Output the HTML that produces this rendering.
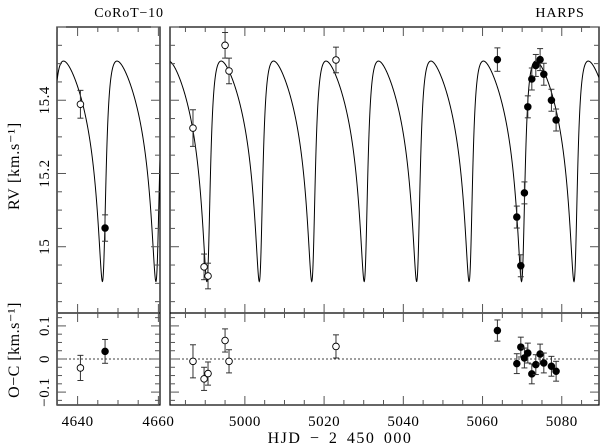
<!DOCTYPE html>
<html><head><meta charset="utf-8"><style>
html,body{margin:0;padding:0;background:#fff}
svg{display:block;font-family:"Liberation Serif","DejaVu Serif",serif}
</style></head><body>
<svg id="c" width="602" height="447" viewBox="0 0 602 447"></svg>
<script>
// ---- data ----
const openT = [4640.7, 4986.9, 4989.7, 4990.7, 4995.0, 4996.0, 5023.0];
const openRV = [15.389, 15.324, 14.945, 14.92, 15.55, 15.48, 15.51];
const openErr = [0.038, 0.05, 0.035, 0.035, 0.035, 0.035, 0.035];
const openRes = [-0.027, -0.007, -0.060, -0.044, 0.056, -0.007, 0.038];
const fillT = [4646.8, 5063.75, 5068.65, 5069.66, 5070.57, 5071.43, 5072.44, 5073.45, 5074.53, 5075.47, 5077.39, 5078.57];
const fillRV = [15.051, 15.511, 15.081, 14.948, 15.147, 15.382, 15.458, 15.495, 15.511, 15.471, 15.40, 15.346];
const fillErr = [0.036, 0.032, 0.03, 0.03, 0.03, 0.03, 0.03, 0.03, 0.03, 0.03, 0.03, 0.03];
const fillRes = [0.023, 0.086, -0.014, 0.036, 0.003, 0.018, -0.045, -0.017, 0.015, -0.012, -0.022, -0.037];
const orbitParams = [13.2406, 0.53, 218.9, 0.301, 4990.4]; // P, e, omega, K, t_min
const xTicksLeft = [4640, 4660];
const xTicksRight = [5000, 5020, 5040, 5060, 5080];
const rvTicks = [15, 15.2, 15.4];
const resTicks = [-0.1, 0, 0.1];

const svg = document.getElementById('c');
const NS = 'http://www.w3.org/2000/svg';
function mk(tag, attrs, parent){const e=document.createElementNS(NS,tag);for(const k in attrs)e.setAttribute(k,attrs[k]);(parent||svg).appendChild(e);return e;}

const panels = [
  {x0:57, x1:160, t0:4634.9, t1:4660.4, ticks:xTicksLeft, name:'left'},
  {x0:170, x1:599, t0:4981.1, t1:5089.4, ticks:xTicksRight, name:'right'}
];
const RV = {y0:27, y1:313, v0:15.6, v1:14.819};
const RS = {y0:313, y1:405, v0:0.139, v1:-0.139};
function xs(p,t){return p.x0+(t-p.t0)/(p.t1-p.t0)*(p.x1-p.x0);}
function ys(a,v){return a.y0+(a.v0-v)/(a.v0-a.v1)*(a.y1-a.y0);}

const [P,e,omDeg,K,tmin]=orbitParams;
const om=omDeg*Math.PI/180;
const V0 = 15.507 - K*(1+e*Math.cos(om));
const numin = Math.PI-om;
const Emin = 2*Math.atan(Math.sqrt((1-e)/(1+e))*Math.tan(numin/2));
const Mmin = Emin - e*Math.sin(Emin);
const tp = tmin - Mmin/(2*Math.PI)*P;
function rvModel(t){
  let M = 2*Math.PI*(t-tp)/P; M = ((M%(2*Math.PI))+2*Math.PI)%(2*Math.PI);
  let E=M; for(let i=0;i<50;i++){E=E-(E-e*Math.sin(E)-M)/(1-e*Math.cos(E));}
  const nu=2*Math.atan2(Math.sqrt(1+e)*Math.sin(E/2),Math.sqrt(1-e)*Math.cos(E/2));
  return V0+K*(Math.cos(nu+om)+e*Math.cos(om));
}

panels.forEach(p=>{
  const g = mk('g',{});
  
  
  const cid='clip-'+p.name;
  const cp=mk('clipPath',{id:cid},g); mk('rect',{x:p.x0,y:RV.y0,width:p.x1-p.x0,height:RV.y1-RV.y0},cp);
  let d='';
  for(let px=p.x0; px<=p.x1; px+=0.25){
    const t=p.t0+(px-p.x0)/(p.x1-p.x0)*(p.t1-p.t0);
    d+=(d?'L':'M')+px.toFixed(2)+','+ys(RV,rvModel(t)).toFixed(2);
  }
  const c=mk('path',{d:d,fill:'none',stroke:'#000','stroke-width':1,'clip-path':'url(#'+cid+')'},g);
  
  
  const zl=mk('line',{x1:p.x0,x2:p.x1,y1:ys(RS,0),y2:ys(RS,0),stroke:'#000','stroke-width':0.8,'stroke-dasharray':'2,2'},g);
  
  
  mk('rect',{x:p.x0,y:RV.y0,width:p.x1-p.x0,height:RS.y1-RV.y0,fill:'none',stroke:'#000','stroke-width':1.2},g);
  mk('line',{x1:p.x0,x2:p.x1,y1:RV.y1,y2:RV.y1,stroke:'#000','stroke-width':1.2},g);
  const tStart=Math.ceil(p.t0/5)*5;
  for(let t=tStart;t<=p.t1;t+=5){
    const x=xs(p,t); const maj=(t%20===0); const L=maj?9:5;
    [RV.y0, RS.y1].forEach((y,i)=>mk('line',{x1:x,x2:x,y1:y,y2:i===0?y+L:y-L,stroke:'#555','stroke-width':1},g));
    mk('line',{x1:x,x2:x,y1:RV.y1,y2:RV.y1-L,stroke:'#555','stroke-width':1},g);
    mk('line',{x1:x,x2:x,y1:RV.y1,y2:RV.y1+L,stroke:'#555','stroke-width':1},g);
  }
  p.ticks.forEach(t=>{
    const tl=mk('text',{x:xs(p,t),y:426,'text-anchor':'middle','font-size':15,'letter-spacing':0.5},g); tl.textContent=t;
    
    
  });
  [[RV,0.05,0.2],[RS,0.025,0.1]].forEach(([a,st,mj])=>{
    for(let v=Math.ceil(a.v1/st)*st; v<=a.v0+1e-9; v+=st){
      const y=ys(a,v); const maj=Math.abs(Math.round(v/mj)*mj-v)<1e-6; const L=maj?9:5;
      mk('line',{x1:p.x0,x2:p.x0+L,y1:y,y2:y,stroke:'#555','stroke-width':1},g);
      mk('line',{x1:p.x1,x2:p.x1-L,y1:y,y2:y,stroke:'#555','stroke-width':1},g);
    }
  });
});

rvTicks.forEach(v=>{
  const y=ys(RV,v);
  const t=mk('text',{x:0,y:0,'text-anchor':'middle','font-size':15,'letter-spacing':0.5,transform:`translate(49,${y}) rotate(-90)`});
  t.textContent=(v===15?'15':v.toFixed(1));
  
  
});
resTicks.forEach(v=>{
  const y=ys(RS,v);
  const t=mk('text',{x:0,y:0,'text-anchor':'middle','font-size':15,'letter-spacing':0.5,transform:`translate(49,${y}) rotate(-90)`});
  t.textContent=(v===0?'0':(v<0?'\u22120.1':'0.1'));
  
  
});

function drawPts(T,V,E,axis,filled,nm){
  T.forEach((t,i)=>{
    const p = t<4800?panels[0]:panels[1];
    const x=xs(p,t), y=ys(axis,V[i]);
    const ya=ys(axis,V[i]+E[i]), yb=ys(axis,V[i]-E[i]);
    const g=mk('g',{});
    
    
    mk('line',{x1:x,x2:x,y1:ya,y2:yb,stroke:'#333','stroke-width':1},g);
    mk('line',{x1:x-3,x2:x+3,y1:ya,y2:ya,stroke:'#333','stroke-width':1},g);
    mk('line',{x1:x-3,x2:x+3,y1:yb,y2:yb,stroke:'#333','stroke-width':1},g);
    mk('circle',{cx:x,cy:y,r:3.3,fill:filled?'#000':'#fff',stroke:'#000','stroke-width':0.9},g);
  });
}
drawPts(openT,openRV,openErr,RV,false,'rv-point-open');
drawPts(fillT,fillRV,fillErr,RV,true,'rv-point-harps');
drawPts(openT,openRes,openErr,RS,false,'residual-point-open');
drawPts(fillT,fillRes,fillErr,RS,true,'residual-point-harps');

function lab(txt,attrs,name){const t=mk('text',attrs);t.textContent=txt;
  
  }
lab('CoRoT\u221210',{x:129,y:17,'text-anchor':'middle','font-size':14,'letter-spacing':0.8},'instrument-label-corot');
lab('HARPS',{x:560,y:17,'text-anchor':'middle','font-size':14,'letter-spacing':0.8},'instrument-label-harps');
lab('HJD \u2212 2 450 000',{x:340,y:443,'text-anchor':'middle','font-size':16,'letter-spacing':1.5,'word-spacing':3},'x-axis-title');
lab('RV [km.s\u207B\u00B9]',{x:0,y:0,'text-anchor':'middle','font-size':16,'letter-spacing':0.8,transform:'translate(19,166) rotate(-90)'},'rv-axis-title');
lab('O\u2212C [km.s\u207B\u00B9]',{x:0,y:0,'text-anchor':'middle','font-size':16,'letter-spacing':0.5,transform:'translate(19,350) rotate(-90)'},'residual-axis-title');
</script>
</body></html>
